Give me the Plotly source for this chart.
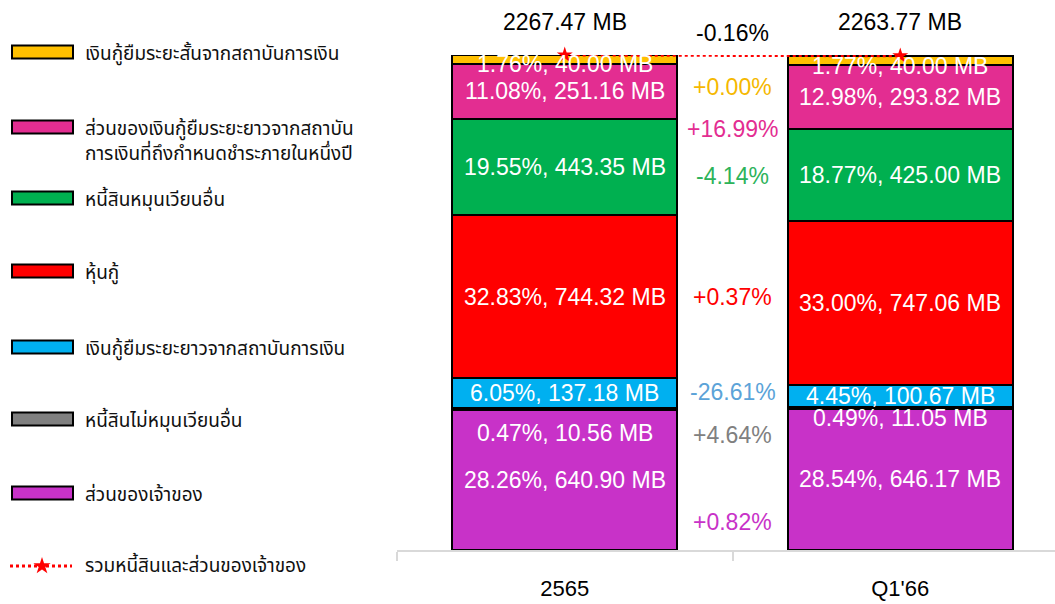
import plotly.graph_objects as go

# ---- data ----
categories = ["2565", "Q1'66"]
series_names = [
    "ส่วนของเจ้าของ",
    "หนี้สินไม่หมุนเวียนอื่น",
    "เงินกู้ยืมระยะยาวจากสถาบันการเงิน",
    "หุ้นกู้",
    "หนี้สินหมุนเวียนอื่น",
    "ส่วนของเงินกู้ยืมระยะยาวจากสถาบัน<br>การเงินที่ถึงกำหนดชำระภายในหนึ่งปี",
    "เงินกู้ยืมระยะสั้นจากสถาบันการเงิน",
]
owner_equity = [640.90, 646.17]
other_noncurrent = [10.56, 11.05]
lt_loan = [137.18, 100.67]
debentures = [744.32, 747.06]
other_current = [443.35, 425.00]
lt_loan_current = [251.16, 293.82]
st_loan = [40.00, 40.00]
total_name = "รวมหนี้สินและส่วนของเจ้าของ"

series_values = [owner_equity, other_noncurrent, lt_loan, debentures,
                 other_current, lt_loan_current, st_loan]
colors = ["#C832C8", "#808080", "#00B0F0", "#FF0000", "#00B050", "#E32D91", "#FFC000"]
change_colors = ["#C832C8", "#808080", "#5BA3D8", "#FF0000", "#2DB35A", "#E32D91", "#F5B800"]

totals = [sum(v[i] for v in series_values) for i in range(2)]

# ---- layout geometry (pixel based, margins zero so paper == page) ----
W, H = 1055, 604
PL, PT, PB = 397, 55, 550          # plot area left / top / bottom in px
unit = 335.5                        # px per category
xr = [-0.5, -0.5 + (W - PL) / unit]

def px(x):
    return x / W

def py(y):
    return 1 - y / H

FONT = "Liberation Sans, Arial, sans-serif"
THAI = "Tahoma, 'Noto Sans Thai', 'Noto Sans', sans-serif"

fig = go.Figure()
for name, vals, col in zip(series_names, series_values, colors):
    fig.add_trace(go.Bar(
        x=categories, y=vals, name=name, width=0.67,
        marker=dict(color=col, line=dict(color="black", width=2)),
        showlegend=False, hoverinfo="skip",
    ))

fig.add_trace(go.Scatter(
    x=categories, y=totals, mode="lines+markers", name=total_name,
    line=dict(color="#FF0000", width=3, dash="dot"),
    marker=dict(symbol="star", size=12, color="#FF0000"),
    showlegend=False, cliponaxis=False,
))

annotations = []
# in-bar labels
label_yshift = [
    [0, 0], [-24, -10], [0, 0], [0, 0], [0, 0], [0, 0], [-5, -6],
]
for i, cat in enumerate(categories):
    base = 0
    for s, vals in enumerate(series_values):
        v = vals[i]
        mid = base + v / 2
        base += v
        annotations.append(dict(
            x=i, y=mid, xref="x", yref="y",
            xanchor="center", yanchor="middle",
            text=f"{v / totals[i] * 100:.2f}%, {v:.2f} MB",
            showarrow=False, yshift=label_yshift[s][i],
            font=dict(family=FONT, size=23, color="white"),
        ))
    annotations.append(dict(
        x=i, y=py(22), xref="x", yref="paper",
        xanchor="center", yanchor="middle",
        text=f"{totals[i]:.2f} MB", showarrow=False,
        font=dict(family=FONT, size=23, color="black"),
    ))

# change labels between bars
change_py = [522, 435, 392, 297, 176, 129, 87]
for s, vals in enumerate(series_values):
    ch = (vals[1] - vals[0]) / vals[0] * 100
    annotations.append(dict(
        x=0.5, y=py(change_py[s]), xref="x", yref="paper",
        xanchor="center", yanchor="middle",
        text=f"{ch:+.2f}%", showarrow=False,
        font=dict(family=FONT, size=23, color=change_colors[s]),
    ))
tch = (totals[1] - totals[0]) / totals[0] * 100
annotations.append(dict(
    x=0.5, y=py(33), xref="x", yref="paper", text=f"{tch:+.2f}%",
    xanchor="center", yanchor="middle",
    showarrow=False, font=dict(family=FONT, size=23, color="black"),
))

# custom legend
shapes = []
legend_py = [493, 419, 347, 271, 198, 127, 52]
for name, col, ly in zip(series_names, colors, legend_py):
    shapes.append(dict(
        type="rect", xref="paper", yref="paper",
        x0=px(12), x1=px(73), y0=py(ly + 6.5), y1=py(ly - 6.5),
        fillcolor=col, line=dict(color="black", width=2),
    ))
    annotations.append(dict(
        x=px(83), y=py(ly - 14), xref="paper", yref="paper",
        xanchor="left", yanchor="top", align="left",
        text=name, showarrow=False,
        font=dict(family=THAI, size=19, color="#111111"),
    ))
# legend line sample
shapes.append(dict(
    type="line", xref="paper", yref="paper",
    x0=px(10), x1=px(72), y0=py(566), y1=py(566),
    line=dict(color="#FF0000", width=3, dash="dot"),
))
fig.add_trace(go.Scatter(
    x=[42], y=[566], xaxis="x2", yaxis="y2", mode="markers",
    marker=dict(symbol="star", size=13, color="#FF0000"),
    showlegend=False, hoverinfo="skip",
))
annotations.append(dict(
    x=px(83), y=py(566), xref="paper", yref="paper",
    xanchor="left", yanchor="middle", align="left",
    text=total_name, showarrow=False,
    font=dict(family=THAI, size=19, color="#111111"),
))

fig.update_layout(
    width=W, height=H,
    margin=dict(l=0, r=0, t=0, b=0),
    barmode="stack", bargap=0,
    plot_bgcolor="rgba(0,0,0,0)", paper_bgcolor="white",
    xaxis=dict(
        domain=[PL / W, 1], anchor="y",
        type="category", range=xr, showgrid=False, zeroline=False,
        showline=True, linecolor="#D9D9D9", linewidth=2,
        ticks="outside", tickson="boundaries", ticklen=9, tickcolor="#D9D9D9",
        tickwidth=2, tickfont=dict(family=FONT, size=22, color="black"),
        ticklabelstandoff=18,
    ),
    yaxis=dict(domain=[1 - PB / H, 1 - PT / H], anchor="x",
               range=[0, totals[0]], visible=False, showgrid=False),
    xaxis2=dict(domain=[0, 1], range=[0, W], anchor="y2", visible=False),
    yaxis2=dict(domain=[0, 1], range=[H, 0], anchor="x2", visible=False),
    annotations=annotations, shapes=shapes,
    showlegend=False,
)

fig.write_html("out.html", config={"displayModeBar": False})

# remove the browser's default page margin so the figure sits at (0, 0)
with open("out.html", encoding="utf-8") as f:
    html = f.read()
html = html.replace("<head>", "<head><style>html,body{margin:0;padding:0;overflow:hidden;}</style>", 1)
with open("out.html", "w", encoding="utf-8") as f:
    f.write(html)
